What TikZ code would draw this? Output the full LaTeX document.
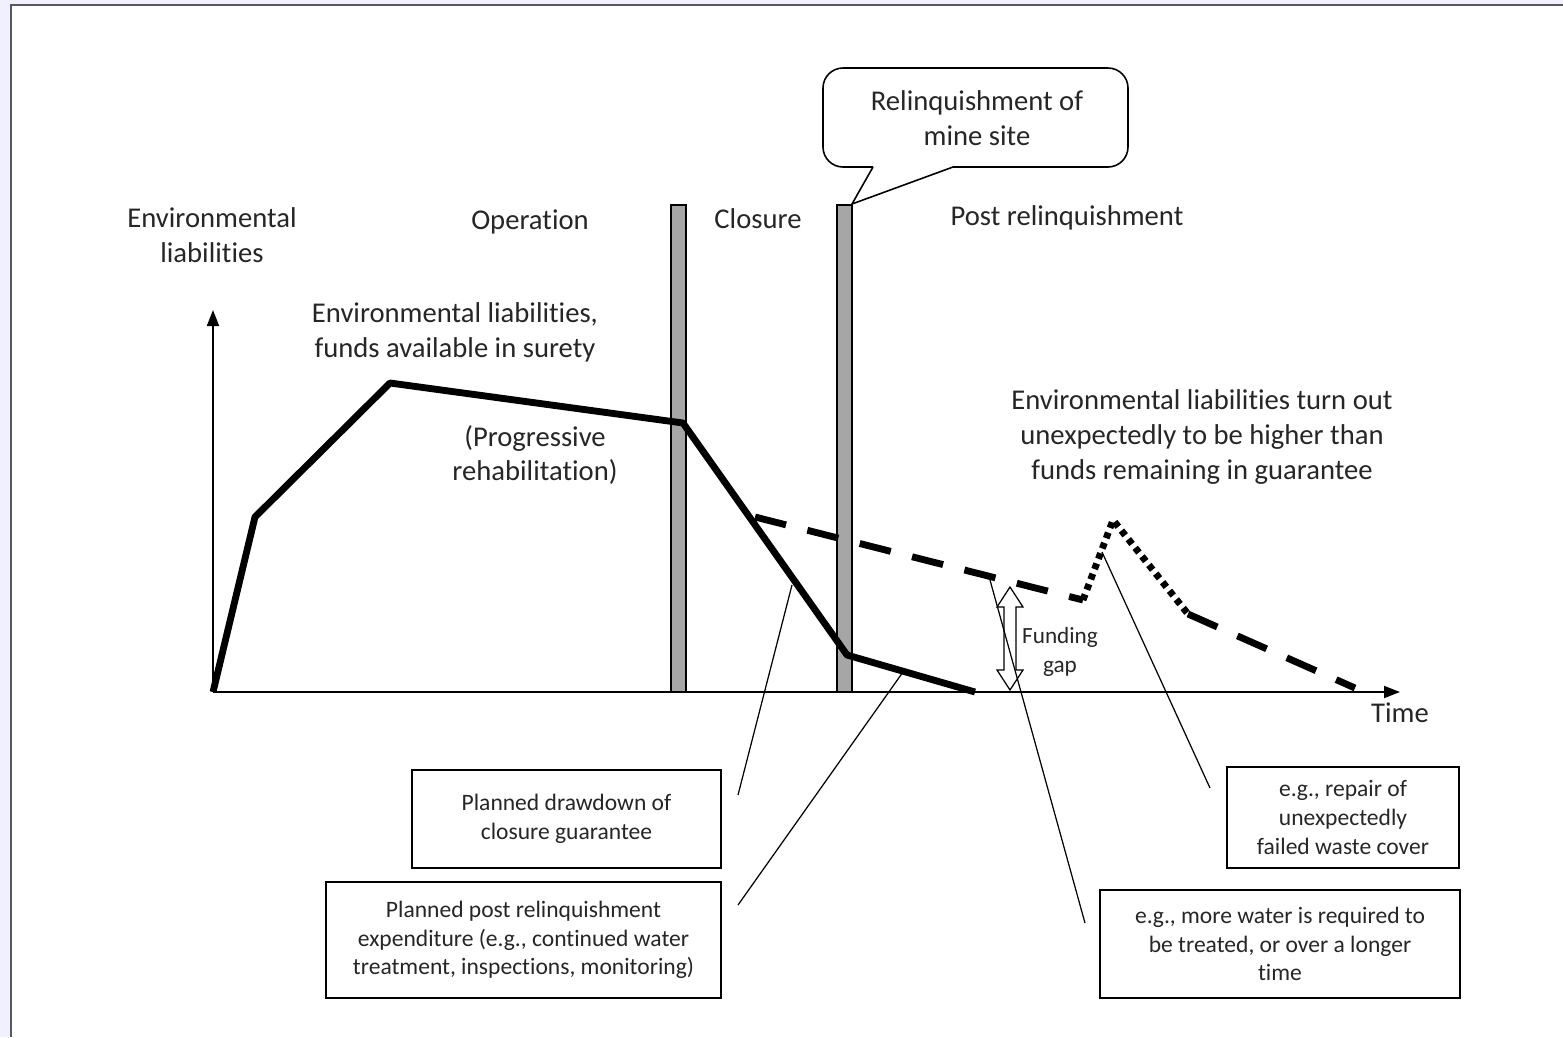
\documentclass[tikz,border=0pt]{standalone}
\usepackage{fontspec}
\setmainfont{Carlito}[Ligatures=NoCommon]
\usepackage{xcolor}
\usepackage{tikz}
\usetikzlibrary{arrows.meta,positioning}

\begin{document}
\begin{tikzpicture}[
    x=0.2mm, y=-0.2mm,
    lbl/.style={align=center, text=black!85, font=\fontsize{16.3}{19.9}\selectfont},
    box/.style={draw, line width=1.1pt, align=center, text=black!85, font=\fontsize{13.4}{16.4}\selectfont},
    bar/.style={draw, fill=black!35, line width=0.6pt},
    lead/.style={line width=0.7pt},
    curve/.style={line width=3.9pt, line join=round},
    axis/.style={line width=1.1pt, -{Triangle[length=3.2mm, width=2.4mm]}}
  ]
    \useasboundingbox (0,0) rectangle (1563,1037);
    % page frame
    \fill[blue!6] (0,0) rectangle (1563,1037);
    \fill[white] (11,6) rectangle (1563,1037);
    \draw[black!65, line width=1.3pt] (11,1037) -- (11,5) -- (1563,5);

    % phase bars
    \filldraw[bar] (671,205) rectangle (686,692);
    \filldraw[bar] (837,205) rectangle (852,692);
    \coordinate (bartop) at (852,204);

    % axes
    \coordinate (o) at (213,692);
    \coordinate (ytop) at (213,310);
    \coordinate (xend) at (1400,692);
    \draw[axis] (o) -- (ytop);
    \draw[axis] (o) -- (xend);

    % planned liabilities
    \coordinate (p1) at (255,517);
    \coordinate (p2) at (390,383);
    \coordinate (p3) at (683,423);
    \coordinate (p4) at (847,655);
    \coordinate (p5) at (975,692);
    \draw[curve] (o) -- (p1) -- (p2) -- (p3) -- (p4) -- (p5);

    % actual liabilities
    \coordinate (d1) at (755,517);
    \coordinate (d2) at (1083,600);
    \coordinate (d3) at (1113,520);
    \coordinate (d4) at (1188,614);
    \coordinate (d5) at (1355,688);
    \draw[curve, dash pattern=on 6.4mm off 4.4mm] (d1) -- (d2);
    \draw[curve, dash pattern=on 1.2mm off 1mm] (d2) -- (d3) -- (d4);
    \draw[curve, dash pattern=on 6.4mm off 4.4mm] (d4) -- (d5);

    % funding gap arrow
    \filldraw[fill=white, line width=0.7pt] (1010,587) -- (1023,607) -- (1016,607) -- (1016,670)
      -- (1023,670) -- (1010,690) -- (997,670) -- (1004,670) -- (1004,607) -- (997,607) -- cycle;
    \node[lbl, font=\fontsize{13.2}{16.6}\selectfont] (gap) at (1060,652) {Funding\\gap};

    % labels
    \node[lbl] (ylab) at (212,235) {Environmental\\liabilities};
    \node[lbl] (oper) at (530,222) {Operation};
    \node[lbl] (clos) at (758,219) {Closure};
    \node[lbl] (post) at (1067,218) {Post relinquishment};
    \node[lbl] (envl) at (455,332) {Environmental liabilities,\\funds available in surety};
    \node[lbl] (prog) at (535,455) {(Progressive\\rehabilitation)};
    \node[lbl] (turn) at (1202,437) {Environmental liabilities turn out\\unexpectedly to be higher than\\funds remaining in guarantee};
    \node[lbl, below=0.9mm of xend] (time) {Time};

    % callout
    \node[lbl] (relq) at (977,118) {Relinquishment of\\mine site};
    \draw[line width=0.9pt] (873,167) -- (bartop) -- (953,167) [rounded corners=4mm]
      -- (1128,167) -- (1128,68) -- (823,68) -- (823,167) -- (873,167);

    % boxes
    \node[box, minimum width=61.8mm, minimum height=19.6mm] (b1) at (566.5,819) {Planned drawdown of\\closure guarantee};
    \node[box, minimum width=79mm, minimum height=23.2mm] (b2) at (523.5,940) {Planned post relinquishment\\expenditure (e.g., continued water\\treatment, inspections, monitoring)};
    \node[box, minimum width=46.4mm, minimum height=20.2mm] (b3) at (1343,817.5) {e.g., repair of\\unexpectedly\\failed waste cover};
    \node[box, minimum width=72mm, minimum height=21.6mm] (b4) at (1280,944) {e.g., more water is required to\\be treated, or over a longer\\time};

    % leaders
    \coordinate (l1) at (792,585);
    \coordinate (l1e) at (738,795);
    \coordinate (l2) at (903,672);
    \coordinate (l2e) at (738,905);
    \coordinate (l3) at (990,580);
    \coordinate (l3e) at (1085,923);
    \coordinate (l4) at (1102,552);
    \coordinate (l4e) at (1210,788);
    \draw[lead] (l1) -- (l1e);
    \draw[lead] (l2) -- (l2e);
    \draw[lead] (l3) -- (l3e);
    \draw[lead] (l4) -- (l4e);
\end{tikzpicture}
\end{document}
